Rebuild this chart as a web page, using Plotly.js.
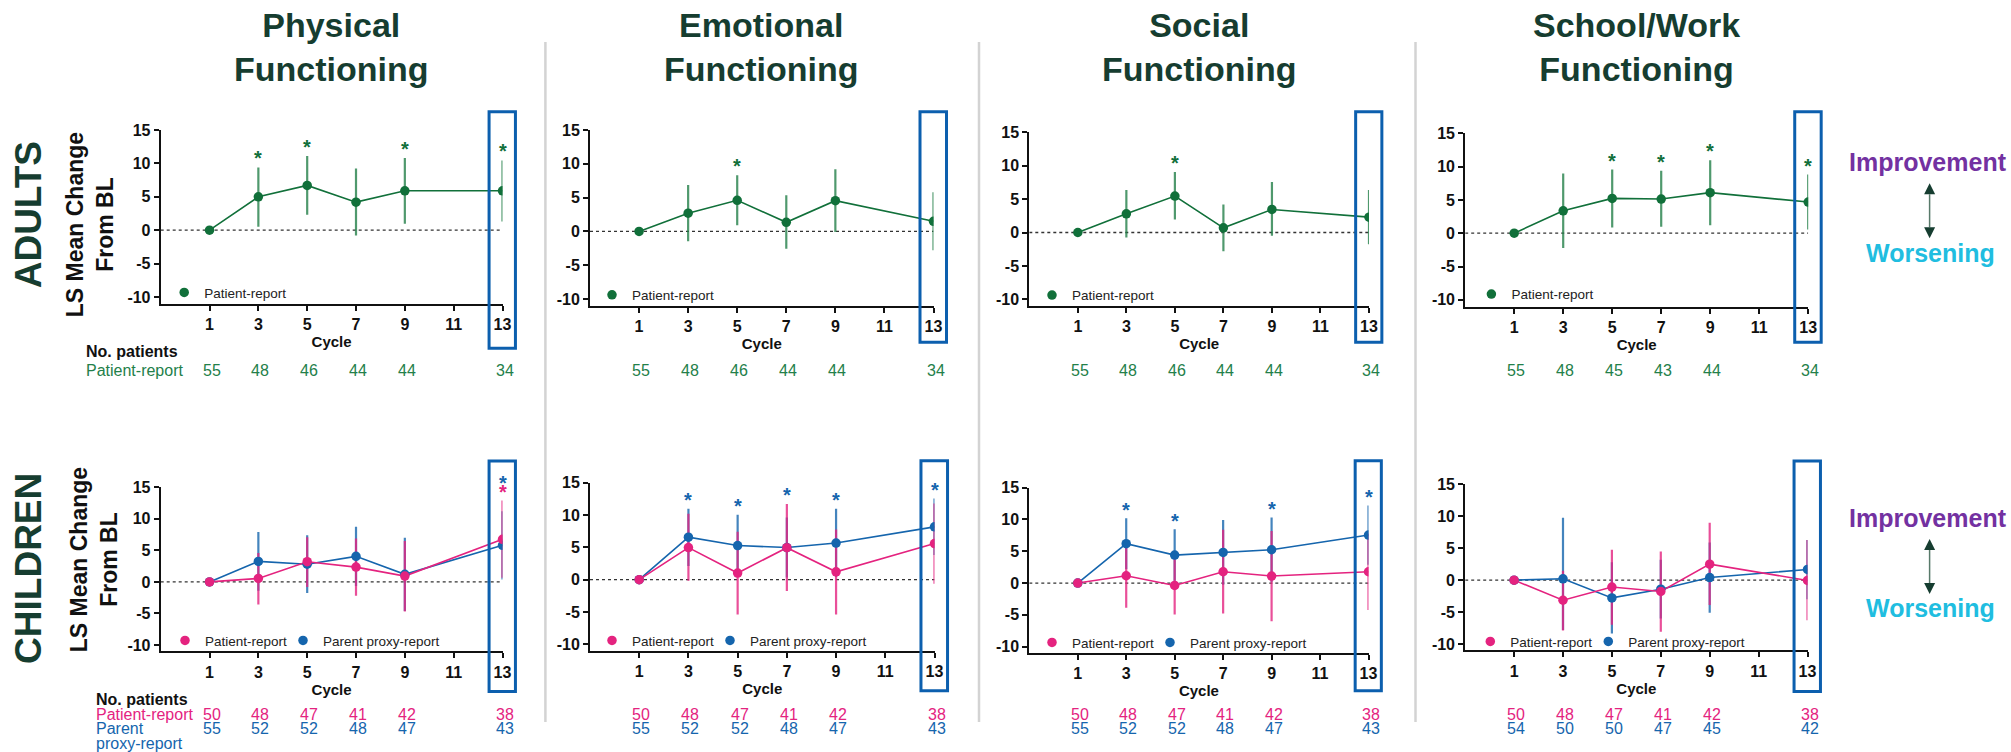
<!DOCTYPE html>
<html><head><meta charset="utf-8">
<script src="https://cdn.plot.ly/plotly-3.0.1.min.js"></script>
<style>html,body{margin:0;padding:0;background:#fff}#chart{width:2011px;height:752px}</style>
</head><body><div id="chart"></div>
<script>
// ---------------- DATA ----------------
const cycles = [1, 3, 5, 7, 9, 13];
const xTicks = [1, 3, 5, 7, 9, 11, 13];
const yTicks = [-10, -5, 0, 5, 10, 15];
const domainTitles = ['Physical<br>Functioning', 'Emotional<br>Functioning', 'Social<br>Functioning', 'School/Work<br>Functioning'];
const seriesNames = ['Patient-report', 'Parent proxy-report'];

// Adults - patient report
const adultPhysMean  = [0, 5.0, 6.7, 4.2, 5.9, 5.9];
const adultPhysLower = [0, 0.5, 2.3, -0.8, 0.95, 1.3];
const adultPhysUpper = [0, 9.4, 11.1, 9.25, 10.8, 10.45];
const adultPhysSig   = [0, 1, 1, 0, 1, 1];
const adultPhysN     = [55, 48, 46, 44, 44, 34];

const adultEmoMean  = [0, 2.7, 4.6, 1.35, 4.55, 1.5];
const adultEmoLower = [0, -1.45, 0.9, -2.55, -0.1, -2.8];
const adultEmoUpper = [0, 6.85, 8.3, 5.35, 9.2, 5.8];
const adultEmoSig   = [0, 0, 1, 0, 0, 0];
const adultEmoN     = [55, 48, 46, 44, 44, 34];

const adultSocMean  = [0, 2.8, 5.45, 0.7, 3.45, 2.3];
const adultSocLower = [0, -0.75, 1.95, -2.8, -0.5, -1.75];
const adultSocUpper = [0, 6.35, 9.05, 4.2, 7.55, 6.35];
const adultSocSig   = [0, 0, 1, 0, 0, 0];
const adultSocN     = [55, 48, 46, 44, 44, 34];

const adultSchMean  = [0, 3.37, 5.23, 5.13, 6.09, 4.68];
const adultSchLower = [0, -2.2, 0.86, 0.96, 1.2, 0.55];
const adultSchUpper = [0, 8.96, 9.56, 9.36, 10.97, 8.8];
const adultSchSig   = [0, 0, 1, 1, 1, 1];
const adultSchN     = [55, 48, 45, 43, 44, 34];

// Children - patient report / parent proxy report
const childPhysPatMean  = [0, 0.55, 3.2, 2.35, 0.92, 6.76];
const childPhysPatLower = [0, -3.6, -0.8, -2.2, -4.7, 0.65];
const childPhysPatUpper = [0, 4.6, 7.1, 6.88, 6.5, 12.9];
const childPhysPatSig   = [0, 0, 0, 0, 0, 1];
const childPhysPatN     = [50, 48, 47, 41, 42, 38];
const childPhysProxMean  = [0, 3.25, 2.8, 4.05, 1.2, 5.8];
const childPhysProxLower = [0, -1.4, -1.75, -0.65, -4.6, 0.4];
const childPhysProxUpper = [0, 7.9, 7.4, 8.75, 7.0, 11.2];
const childPhysProxSig   = [0, 0, 0, 0, 0, 1];
const childPhysProxN     = [55, 52, 52, 48, 47, 43];

const childEmoPatMean  = [0, 4.97, 1.03, 4.95, 1.22, 5.59];
const childEmoPatLower = [0, -0.15, -5.4, -1.76, -5.38, -0.62];
const childEmoPatUpper = [0, 10.2, 7.4, 11.7, 7.76, 11.8];
const childEmoPatSig   = [0, 0, 0, 0, 0, 0];
const childEmoPatN     = [50, 48, 47, 41, 42, 38];
const childEmoProxMean  = [0, 6.57, 5.28, 4.97, 5.67, 8.17];
const childEmoProxLower = [0, 2.12, 0.52, 0.35, 0.4, 3.8];
const childEmoProxUpper = [0, 10.97, 10.04, 9.6, 10.97, 12.57];
const childEmoProxSig   = [0, 1, 1, 1, 1, 1];
const childEmoProxN     = [55, 52, 52, 48, 47, 43];

const childSocPatMean  = [0, 1.15, -0.37, 1.78, 1.1, 1.78];
const childSocPatLower = [0, -3.9, -4.93, -4.8, -6.0, -4.25];
const childSocPatUpper = [0, 6.2, 4.2, 8.4, 8.2, 7.8];
const childSocPatSig   = [0, 0, 0, 0, 0, 0];
const childSocPatN     = [50, 48, 47, 41, 42, 38];
const childSocProxMean  = [0, 6.2, 4.4, 4.82, 5.24, 7.55];
const childSocProxLower = [0, 2.2, 0.35, -0.26, 0.2, 2.9];
const childSocProxUpper = [0, 10.2, 8.45, 9.9, 10.3, 12.2];
const childSocProxSig   = [0, 1, 1, 0, 1, 1];
const childSocProxN     = [55, 52, 52, 48, 47, 43];

const childSchPatMean  = [0, -3.15, -1.08, -1.78, 2.5, -0.05];
const childSchPatLower = [0, -7.9, -7.0, -8.07, -3.9, -6.3];
const childSchPatUpper = [0, 1.47, 4.77, 4.5, 8.97, 6.27];
const childSchPatSig   = [0, 0, 0, 0, 0, 0];
const childSchPatN     = [50, 48, 47, 41, 42, 38];
const childSchProxMean  = [0, 0.21, -2.78, -1.42, 0.4, 1.67];
const childSchProxLower = [0, -7.8, -8.34, -6.0, -5.1, -3.0];
const childSchProxUpper = [0, 9.75, 2.78, 3.2, 5.9, 6.3];
const childSchProxSig   = [0, 0, 0, 0, 0, 0];
const childSchProxN     = [54, 50, 50, 47, 45, 42];

// ---------------- STYLE / LAYOUT ----------------
const W = 2011, H = 752;
const FONT = 'Liberation Sans, Arial, sans-serif';
const DARK = '#163d30';
const GREEN = '#11703a', GREEN_ERR = 'rgba(35,128,72,0.8)';
const PINK = '#e4237f', PINK_ERR = 'rgba(228,35,127,0.8)';
const BLUE = '#1565ad', BLUE_ERR = 'rgba(21,101,173,0.8)';
const BOX = '#0c5fae';
const px = v => v / W;
const py = v => 1 - v / H;

const S = (name, color, err, mean, lo, hi, sig, n, rank) => ({name, color, err, mean, lo, hi, sig, n, rank});
const panels = [
  {xPx:[160.7,502.5], yPx:[130,303.7], box:[111.7,348.3], leg:[188.2,292.7], nY:[370.5], series:[S(seriesNames[0],GREEN,GREEN_ERR,adultPhysMean,adultPhysLower,adultPhysUpper,adultPhysSig,adultPhysN,1)]},
  {xPx:[590,933.5], yPx:[130,305.8], box:[111.7,342.3], leg:[616,295], nY:[370.5], series:[S(seriesNames[0],GREEN,GREEN_ERR,adultEmoMean,adultEmoLower,adultEmoUpper,adultEmoSig,adultEmoN,1)]},
  {xPx:[1029.3,1369], yPx:[132.3,306], box:[111.7,342.3], leg:[1056,295.3], nY:[370.5], series:[S(seriesNames[0],GREEN,GREEN_ERR,adultSocMean,adultSocLower,adultSocUpper,adultSocSig,adultSocN,1)]},
  {xPx:[1465.2,1808.2], yPx:[133.3,306.5], box:[111.7,342.3], leg:[1495.4,294.3], nY:[370.5], series:[S(seriesNames[0],GREEN,GREEN_ERR,adultSchMean,adultSchLower,adultSchUpper,adultSchSig,adultSchN,1)]},
  {xPx:[160.7,502.5], yPx:[487.3,651.3], box:[461,691.5], leg:[189,640.7], nY:[728.7,714.3], series:[
     S(seriesNames[1],BLUE,BLUE_ERR,childPhysProxMean,childPhysProxLower,childPhysProxUpper,childPhysProxSig,childPhysProxN,2),
     S(seriesNames[0],PINK,PINK_ERR,childPhysPatMean,childPhysPatLower,childPhysPatUpper,childPhysPatSig,childPhysPatN,1)]},
  {xPx:[590,934.5], yPx:[482.7,650.8], box:[460.7,690.7], leg:[616,640.7], nY:[728.7,714.3], series:[
     S(seriesNames[1],BLUE,BLUE_ERR,childEmoProxMean,childEmoProxLower,childEmoProxUpper,childEmoProxSig,childEmoProxN,2),
     S(seriesNames[0],PINK,PINK_ERR,childEmoPatMean,childEmoPatLower,childEmoPatUpper,childEmoPatSig,childEmoPatN,1)]},
  {xPx:[1029.3,1368.5], yPx:[487.7,653], box:[460.7,690.7], leg:[1056,642.7], nY:[728.7,714.3], series:[
     S(seriesNames[1],BLUE,BLUE_ERR,childSocProxMean,childSocProxLower,childSocProxUpper,childSocProxSig,childSocProxN,2),
     S(seriesNames[0],PINK,PINK_ERR,childSocPatMean,childSocPatLower,childSocPatUpper,childSocPatSig,childSocPatN,1)]},
  {xPx:[1465.2,1807.5], yPx:[484.3,650.4], box:[461,691.5], leg:[1494.3,641.7], nY:[728.7,714.3], series:[
     S(seriesNames[1],BLUE,BLUE_ERR,childSchProxMean,childSchProxLower,childSchProxUpper,childSchProxSig,childSchProxN,2),
     S(seriesNames[0],PINK,PINK_ERR,childSchPatMean,childSchPatLower,childSchPatUpper,childSchPatSig,childSchPatN,1)]}
];

const errTraces = [], lineTraces = [], markerTraces = [];
const layout = {
  width: W, height: H, autosize: false,
  margin: {l:0, r:0, t:0, b:0},
  paper_bgcolor: '#ffffff', plot_bgcolor: 'rgba(0,0,0,0)',
  showlegend: true, hovermode: false,
  font: {family: FONT, color: '#111'},
  annotations: [], shapes: []
};
const XR = [-1, 13], YR = [-11, 15];
const tickFont = {family: FONT, size: 16, color: '#111', weight: 'bold'};

panels.forEach((p, idx) => {
  const i = idx + 1, suf = i === 1 ? '' : String(i);
  const xa = 'x' + suf, ya = 'y' + suf, legId = 'legend' + suf;
  layout['xaxis' + suf] = {
    domain: [px(p.xPx[0]), px(p.xPx[1])], range: XR, anchor: ya,
    tickmode: 'array', tickvals: xTicks, ticktext: xTicks.map(String),
    showline: true, linecolor: '#111', linewidth: 2, ticks: 'outside', ticklen: 5, tickwidth: 2, tickcolor: '#111',
    showgrid: false, zeroline: false, tickfont: tickFont, fixedrange: true,
    title: {text: 'Cycle', font: {family: FONT, size: 15, color: '#111', weight: 'bold'}, standoff: 4}
  };
  layout['yaxis' + suf] = {
    domain: [py(p.yPx[1]), py(p.yPx[0])], range: YR, anchor: xa,
    tickmode: 'array', tickvals: yTicks, ticktext: yTicks.map(String),
    showline: true, linecolor: '#111', linewidth: 2, ticks: 'outside', ticklen: 5, tickwidth: 2, tickcolor: '#111',
    showgrid: false, zeroline: false, tickfont: tickFont, fixedrange: true
  };
  layout[legId] = {
    orientation: 'h', x: px(p.leg[0] - 24), xanchor: 'left', y: py(p.leg[1]), yanchor: 'middle',
    bgcolor: 'rgba(0,0,0,0)', borderwidth: 0, font: {family: FONT, size: 13.5, color: '#222'},
    traceorder: 'normal'
  };
  const two = p.series.length > 1;

  p.series.forEach(s => {
    const up = s.hi.map((h, k) => h - s.mean[k]);
    const dn = s.mean.map((m, k) => m - s.lo[k]);
    errTraces.push({type: 'scatter', mode: 'markers', x: cycles, y: s.mean, xaxis: xa, yaxis: ya,
      marker: {size: 2, opacity: 0}, showlegend: false, hoverinfo: 'skip',
      error_y: {type: 'data', symmetric: false, array: up, arrayminus: dn, color: s.err, thickness: 2.2, width: 0}});
    lineTraces.push({type: 'scatter', mode: 'lines', x: cycles, y: s.mean, xaxis: xa, yaxis: ya,
      line: {color: s.color, width: 1.6}, showlegend: false, hoverinfo: 'skip'});
    const mt = {type: 'scatter', mode: 'markers', x: cycles, y: s.mean, xaxis: xa, yaxis: ya,
      name: s.name, legend: legId, legendrank: s.rank, showlegend: true,
      marker: {size: 9.5, color: s.color}};
    if (two && s.rank === 1) mt.legendwidth = 73;
    markerTraces.push(mt);
  });

  // significance stars above the highest upper CI at each cycle
  const fy = v => (v - YR[0]) / (YR[1] - YR[0]);
  cycles.forEach((c, k) => {
    const top = Math.max(...p.series.map(s => s.hi[k]));
    const starred = p.series.filter(s => s.sig[k]).sort((a, b) => a.rank - b.rank);
    starred.forEach((s, j) => layout.annotations.push({xref: xa, yref: ya + ' domain', x: c, y: fy(top + 1.35 + j * 1.45),
      text: '*', showarrow: false, xanchor: 'center', yanchor: 'middle',
      font: {family: FONT, size: 20, color: s.color, weight: 'bold'}}));
  });

  // zero reference line
  layout.shapes.push({type: 'line', xref: xa, yref: ya, x0: XR[0], x1: 13, y0: 0, y1: 0,
    line: {color: '#333', width: 1.3, dash: 'dot'}, layer: 'below'});
  // highlight box around cycle 13
  const fx = v => (v - XR[0]) / (XR[1] - XR[0]);
  layout.shapes.push({type: 'rect', xref: xa + ' domain', yref: 'paper', x0: fx(12.45), x1: fx(13.53),
    y0: py(p.box[1]), y1: py(p.box[0]), line: {color: BOX, width: 3}, fillcolor: 'rgba(0,0,0,0)', layer: 'above'});

  // patient counts
  p.series.forEach((s, j) => {
    s.n.forEach((v, k) => layout.annotations.push({xref: xa, yref: 'paper', x: cycles[k], y: py(p.nY[j]),
      text: String(v), showarrow: false, xshift: 2, xanchor: 'center', yanchor: 'middle',
      font: {family: FONT, size: 16, color: s.color === GREEN ? '#23804a' : s.color}}));
  });

  // domain titles (top row)
  if (idx < 4) {
    layout.annotations.push({xref: xa + ' domain', yref: 'paper', x: 0.5, y: py(47.5), text: domainTitles[idx],
      showarrow: false, xanchor: 'center', yanchor: 'middle', font: {family: FONT, size: 34, color: DARK, weight: 'bold'}});
  }
});

// left side labels
const A = layout.annotations;
A.push({xref:'paper', yref:'paper', x:px(28.6), y:py(214.7), text:'ADULTS', textangle:-90, showarrow:false, xanchor:'center', yanchor:'middle', font:{family:FONT, size:37, color:DARK, weight:'bold'}});
A.push({xref:'paper', yref:'paper', x:px(28.6), y:py(568.3), text:'CHILDREN', textangle:-90, showarrow:false, xanchor:'center', yanchor:'middle', font:{family:FONT, size:37, color:DARK, weight:'bold'}});
A.push({xref:'paper', yref:'paper', x:px(90.2), y:py(225), text:'LS Mean Change<br>From BL', textangle:-90, showarrow:false, xanchor:'center', yanchor:'middle', font:{family:FONT, size:23, color:'#111', weight:'bold'}});
A.push({xref:'paper', yref:'paper', x:px(94.2), y:py(560), text:'LS Mean Change<br>From BL', textangle:-90, showarrow:false, xanchor:'center', yanchor:'middle', font:{family:FONT, size:23, color:'#111', weight:'bold'}});
// count-table row labels
A.push({xref:'paper', yref:'paper', x:px(83.5), y:py(351.7), text:'No. patients', showarrow:false, xanchor:'left', yanchor:'middle', font:{family:FONT, size:16, color:'#111', weight:'bold'}});
A.push({xref:'paper', yref:'paper', x:px(83.5), y:py(370.5), text:seriesNames[0], showarrow:false, xanchor:'left', yanchor:'middle', font:{family:FONT, size:16, color:'#23804a'}});
A.push({xref:'paper', yref:'paper', x:px(93.5), y:py(699), text:'No. patients', showarrow:false, xanchor:'left', yanchor:'middle', font:{family:FONT, size:16, color:'#111', weight:'bold'}});
A.push({xref:'paper', yref:'paper', x:px(93.5), y:py(714.3), text:seriesNames[0], showarrow:false, xanchor:'left', yanchor:'middle', font:{family:FONT, size:16, color:PINK}});
A.push({xref:'paper', yref:'paper', x:px(93.5), y:py(728.5), text:'Parent', showarrow:false, xanchor:'left', yanchor:'middle', font:{family:FONT, size:16, color:BLUE}});
A.push({xref:'paper', yref:'paper', x:px(93.5), y:py(743), text:'proxy-report', showarrow:false, xanchor:'left', yanchor:'middle', font:{family:FONT, size:16, color:BLUE}});
// direction key
[[161.7, 253.3, 183.3, 238.3], [518.3, 608.3, 539, 594]].forEach(([yi, yw, ta, tb]) => {
  A.push({xref:'paper', yref:'paper', x:px(1928), y:py(yi), text:'Improvement', showarrow:false, xanchor:'center', yanchor:'middle', font:{family:FONT, size:25, color:'#7331a1', weight:'bold'}});
  A.push({xref:'paper', yref:'paper', x:px(1930), y:py(yw), text:'Worsening', showarrow:false, xanchor:'center', yanchor:'middle', font:{family:FONT, size:25, color:'#20bde0', weight:'bold'}});
  const ax = 1929.6, hw = 5.5, th = 11;
  layout.shapes.push({type:'line', xref:'paper', yref:'paper', x0:px(ax), x1:px(ax), y0:py(ta + th), y1:py(tb - th), line:{color:'#587a6a', width:1.5}});
  layout.shapes.push({type:'path', xref:'paper', yref:'paper', path:`M ${px(ax)} ${py(ta)} L ${px(ax-hw)} ${py(ta+th)} L ${px(ax+hw)} ${py(ta+th)} Z`, fillcolor:DARK, line:{width:0}});
  layout.shapes.push({type:'path', xref:'paper', yref:'paper', path:`M ${px(ax)} ${py(tb)} L ${px(ax-hw)} ${py(tb-th)} L ${px(ax+hw)} ${py(tb-th)} Z`, fillcolor:DARK, line:{width:0}});
});
// column separators
[545.4, 979, 1415.5].forEach(x => layout.shapes.push({type:'line', xref:'paper', yref:'paper', x0:px(x), x1:px(x), y0:py(42), y1:py(722), line:{color:'#d3d3d3', width:2.5}}));

Plotly.newPlot('chart', [...errTraces, ...lineTraces, ...markerTraces], layout, {staticPlot: true, displayModeBar: false});
</script></body></html>
